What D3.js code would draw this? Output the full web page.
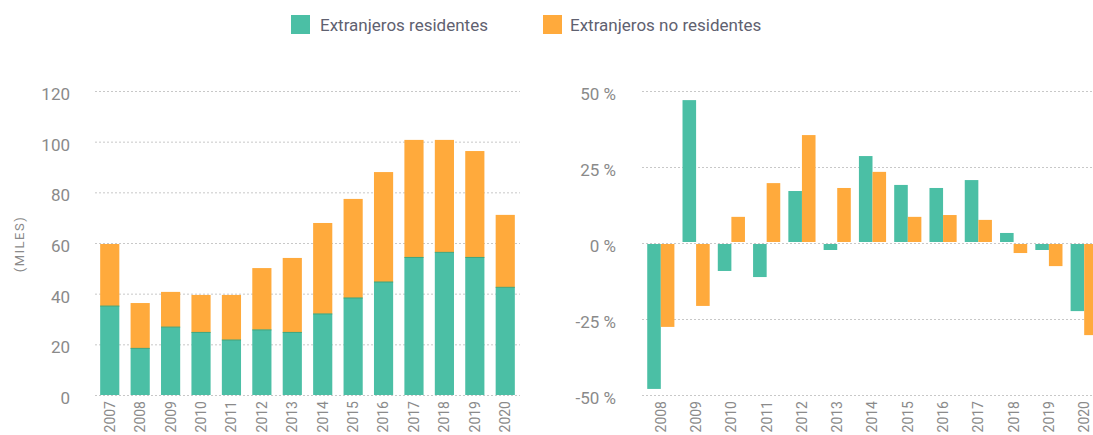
<!DOCTYPE html>
<html><head><meta charset="utf-8">
<script src="https://cdn.jsdelivr.net/npm/d3@7"></script>
<style>body{margin:0;background:#fff}svg{display:block}text{font-family:Roboto,"DejaVu Sans",sans-serif}</style>
</head><body><svg id="c" width="1093" height="435"></svg>
<script>
const years = ["2007","2008","2009","2010","2011","2012","2013","2014","2015","2016","2017","2018","2019","2020"];
const residentes = [35.1,18.4,26.8,24.7,21.7,25.7,24.7,32.0,38.3,44.6,54.3,56.3,54.3,42.5];
const noResidentes = [24.5,17.9,13.9,14.8,17.8,24.4,29.4,35.9,39.1,43.4,46.4,44.4,42.0,28.6];
const leftTicks = [0,20,40,60,80,100,120];
const varYears = ["2008","2009","2010","2011","2012","2013","2014","2015","2016","2017","2018","2019","2020"];
const varResidentes = [-48.0,47.0,-9.2,-11.2,17.1,-2.3,28.6,19.1,18.1,20.7,3.3,-2.3,-22.4];
const varNoResidentes = [-27.6,-20.7,8.6,19.7,35.5,18.1,23.4,8.6,9.2,7.6,-3.3,-7.6,-30.3];
const rightTicks = [-50,-25,0,25,50];
const seriesNames = ["Extranjeros residentes","Extranjeros no residentes"];
const colors = ["#4BBFA5","#FFAA3C"];

const svg = d3.select("#c");
const grid = "#c8c8c8", tickCol = "#8a8a8a";

// Legend
const leg = svg.append("g");
[[291,320],[543,570]].forEach((p,i)=>{
  leg.append("rect").attr("x",p[0]).attr("y",15).attr("width",19).attr("height",19).attr("fill",colors[i]);
  leg.append("text").attr("x",p[1]).attr("y",31).attr("font-size",17).attr("fill","#5f6170").text(seriesNames[i]);
});

// Left chart
const xL = d3.scaleBand().domain(years).range([95,520]).paddingInner(0.37).paddingOuter(0.17);
const yL = d3.scaleLinear().domain([0,120]).range([395,91]);
const gL = svg.append("g");
gL.append("g").selectAll("line").data(leftTicks).join("line")
  .attr("x1",95).attr("x2",520).attr("y1",d=>yL(d)+0.5).attr("y2",d=>yL(d)+0.5)
  .attr("stroke",grid).attr("stroke-dasharray","2,2");
const axL = d3.axisLeft(yL).tickValues(leftTicks).tickSize(0).tickPadding(0);
const axLg = gL.append("g").attr("transform","translate(70,3)").call(axL);
axLg.select(".domain").remove();
axLg.selectAll("text").attr("font-size",17).attr("fill",tickCol).attr("font-family","Roboto");
gL.selectAll(".res").data(years).join("rect").attr("class","res")
  .attr("x",d=>xL(d)).attr("width",xL.bandwidth())
  .attr("y",(d,i)=>yL(residentes[i])).attr("height",(d,i)=>yL(0)-yL(residentes[i]))
  .attr("fill",colors[0]);
gL.selectAll(".nres").data(years).join("rect").attr("class","nres")
  .attr("x",d=>xL(d)).attr("width",xL.bandwidth())
  .attr("y",(d,i)=>yL(residentes[i]+noResidentes[i])).attr("height",(d,i)=>yL(residentes[i])-yL(residentes[i]+noResidentes[i]))
  .attr("fill",colors[1]);
gL.selectAll(".resline").data(years).join("rect").attr("class","resline")
  .attr("x",d=>xL(d)).attr("width",xL.bandwidth())
  .attr("y",(d,i)=>yL(residentes[i])-0.5).attr("height",1)
  .attr("fill","#3aa57f");
const axLx = d3.axisBottom(xL).tickSize(0).tickPadding(0);
const axLxg = gL.append("g").attr("transform","translate(0,401)").call(axLx);
axLxg.select(".domain").remove();
axLxg.selectAll("text").attr("font-size",14).attr("fill",tickCol)
  .attr("transform","rotate(-90)").attr("text-anchor","end").attr("dy","0.35em").attr("x",0).attr("y",0);
gL.append("text").attr("transform","translate(24,244) rotate(-90)").attr("text-anchor","middle")
  .attr("font-size",13).attr("fill",tickCol).attr("letter-spacing","1.5").text("(MILES)");

// Right chart
const xR = d3.scaleBand().domain(varYears).range([643,1102]).paddingInner(0.23).paddingOuter(0.12);
const xSub = d3.scaleBand().domain([0,1]).range([0,xR.bandwidth()]);
const yR = d3.scaleLinear().domain([-50,50]).range([395,91]);
const gR = svg.append("g");
gR.append("g").selectAll("line").data(rightTicks).join("line")
  .attr("x1",642).attr("x2",1093).attr("y1",d=>yR(d)+0.5).attr("y2",d=>yR(d)+0.5)
  .attr("stroke",grid).attr("stroke-dasharray","2,2");
const axR = d3.axisLeft(yR).tickValues(rightTicks).tickSize(0).tickPadding(0).tickFormat(d=>d+" %");
const axRg = gR.append("g").attr("transform","translate(616,3)").call(axR);
axRg.select(".domain").remove();
axRg.selectAll("text").attr("font-size",17).attr("fill",tickCol).attr("font-family","Roboto");
[varResidentes,varNoResidentes].forEach((arr,s)=>{
  gR.append("g").selectAll("rect").data(varYears).join("rect")
    .attr("x",d=>xR(d)+xSub(s)).attr("width",xSub.bandwidth())
    .attr("y",(d,i)=>arr[i]>=0?yR(arr[i]):yR(0)+1)
    .attr("height",(d,i)=>arr[i]>=0?yR(0)-1-yR(arr[i]):yR(arr[i])-yR(0)-1)
    .attr("fill",colors[s]);
});
const axRx = d3.axisBottom(xR).tickSize(0).tickPadding(0);
const axRxg = gR.append("g").attr("transform","translate(0,401)").call(axRx);
axRxg.select(".domain").remove();
axRxg.selectAll("text").attr("font-size",14).attr("fill",tickCol)
  .attr("transform","rotate(-90)").attr("text-anchor","end").attr("dy","0.35em").attr("x",0).attr("y",0);
</script></body></html>
